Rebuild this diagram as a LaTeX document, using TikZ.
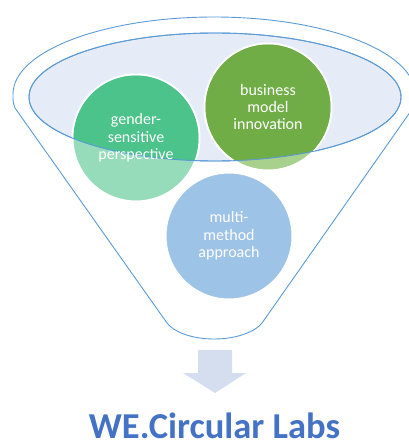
\documentclass[tikz,border=0pt]{standalone}
\usepackage{fontspec}
\setmainfont{Carlito}
\usepackage{tikz}
\usetikzlibrary{shapes.geometric,positioning}
\usepackage{xcolor}

\definecolor{funnelblue}{HTML}{5B9BD5}
\definecolor{rimfill}{HTML}{E6ECF7}
\definecolor{gsdark}{HTML}{4CC38A}
\definecolor{gslight}{HTML}{97DCBA}
\definecolor{bmdark}{HTML}{70AD47}
\definecolor{bmlight}{HTML}{A9D18E}
\definecolor{mmfill}{HTML}{9DC3E6}
\definecolor{arrowfill}{HTML}{D4DEEF}
\definecolor{titleblue}{HTML}{4472C4}

\begin{document}
\begin{tikzpicture}[
    x=1pt, y=-1pt,
    funnel/.style={draw=funnelblue, line width=0.9pt, line join=round},
    rimbox/.style={ellipse, draw=funnelblue, line width=0.9pt,
                   minimum width=372pt, minimum height=128pt, inner sep=0pt},
    bubble/.style={circle, draw=white, line width=2pt,
                   minimum size=127pt, inner sep=0pt},
    bubbletext/.style={text=white, align=center, font=\fontsize{16}{17.3}\selectfont},
    downarrow/.style={fill=arrowfill},
    titletext/.style={text=titleblue, inner sep=0pt,
                      font=\fontsize{36.5}{40}\selectfont\bfseries},
]
\useasboundingbox (0,0) rectangle (408,441);

% funnel body
\draw[funnel] (15,108) -- (167,323)
    .. controls (173,331) and (190,339) .. (214,339)
    .. controls (238,339) and (256,331) .. (262,323)
    -- (413,108) .. controls (415,102) .. (415,94)
    arc[start angle=0, end angle=-180, x radius=201, y radius=77]
    .. controls (13,102) .. (15,108);

% top rim of the funnel
\node[rimbox, fill=rimfill] (rim) at (215,97) {};

% the three ideas, light where they drop out of the rim
\node[bubble, fill=gslight] (gender) at (136,138) {};
\node[bubble, fill=bmlight] (business) at (268,107) {};
\node[bubble, fill=mmfill] (method) at (229,236) {};

\begin{scope}
    \clip (215,97) ellipse [x radius=186, y radius=64];
    \fill[gsdark] (gender.center) circle [radius=62.5];
    \fill[bmdark] (business.center) circle [radius=62.5];
\end{scope}
\draw[funnelblue, line width=0.9pt] (rim.center) ellipse [x radius=186, y radius=64];

\node[bubbletext] at (gender.center) {gender-\\sensitive\\perspective};
\node[bubbletext] at (business.center) {business\\model\\innovation};
\node[bubbletext] at (method.center) {multi-\\method\\approach};

% outcome
\coordinate (tip) at (215,393);
\fill[downarrow] (198,350) -- (232,350) -- (232,373) -- (246,373)
    -- (tip) -- (183,373) -- (198,373) -- cycle;

\node[titletext, anchor=base] (labs) at (214.5,438) {WE.Circular Labs};

\end{tikzpicture}
\end{document}
